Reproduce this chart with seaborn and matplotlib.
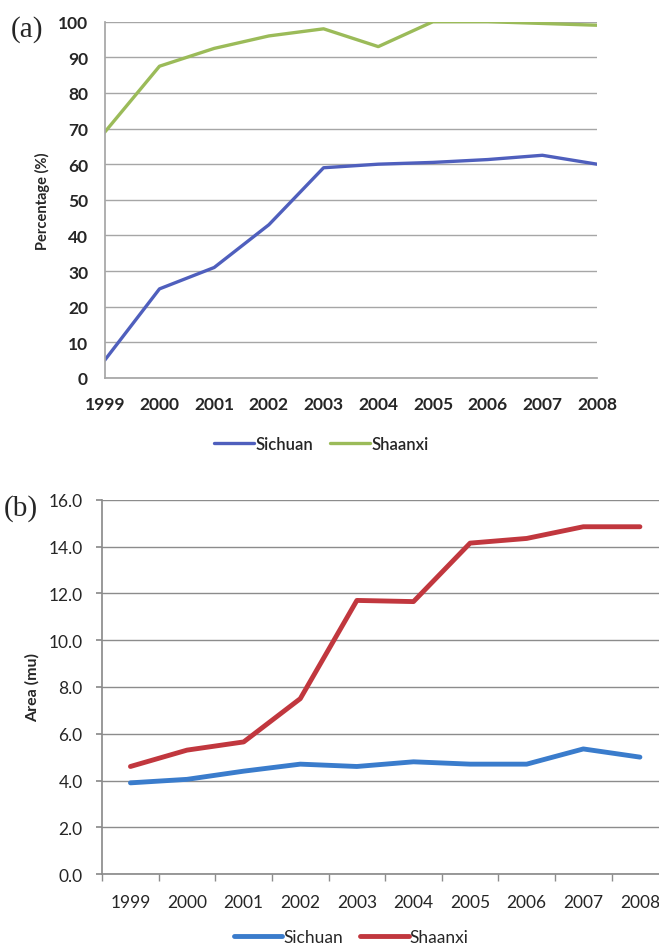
import numpy as np
import pandas as pd
import matplotlib
matplotlib.use("Agg")
import matplotlib.pyplot as plt
import seaborn as sns
from matplotlib.ticker import MultipleLocator, FixedLocator

# Data
years = ["1999", "2000", "2001", "2002", "2003", "2004", "2005", "2006", "2007", "2008"]
pct_sichuan = [5, 25, 31, 43, 59, 60, 60.5, 61.3, 62.5, 60]
pct_shaanxi = [69, 87.5, 92.5, 96, 98, 93, 100, 100, 99.5, 99]
area_sichuan = [3.9, 4.05, 4.4, 4.7, 4.6, 4.8, 4.7, 4.7, 5.35, 5.0]
area_shaanxi = [4.6, 5.3, 5.65, 7.5, 11.7, 11.65, 14.15, 14.35, 14.85, 14.85]
regions = ["Sichuan", "Shaanxi"]

sns.set_theme(style="white")
plt.rcParams["font.family"] = ["Lato", "DejaVu Sans"]

def long_df(a, b):
    df = pd.DataFrame({"x": list(range(len(years))) * 2,
                       "value": a + b,
                       "region": [regions[0]] * len(a) + [regions[1]] * len(b)})
    return df

fig = plt.figure(figsize=(6.59, 9.45), dpi=100)

# Panel (a)
ax1 = fig.add_axes([0.159, 0.599, 0.747, 0.377])
sns.lineplot(data=long_df(pct_sichuan, pct_shaanxi), x="x", y="value", hue="region",
             palette=["#4f5fbd", "#9bbb59"], linewidth=2.4, ax=ax1)
ax1.set_xlim(0, 9)
ax1.set_ylim(0, 100)
ax1.yaxis.set_major_locator(MultipleLocator(10))
ax1.set_xticks(range(len(years)))
ax1.set_xticklabels(years)
ax1.grid(axis="y", color="#a6a6a6", linewidth=1)
for s in ["top", "right"]:
    ax1.spines[s].set_visible(False)
ax1.spines["left"].set_color("#a6a6a6")
ax1.spines["bottom"].set_color("#a6a6a6")
ax1.tick_params(axis="x", labelsize=12.5, length=0, pad=13)
ax1.tick_params(axis="y", labelsize=12.5, length=0, pad=12)
for lab in ax1.get_xticklabels() + ax1.get_yticklabels():
    lab.set_fontweight("bold")
ax1.set_xlabel("")
ax1.set_ylabel("Percentage (%)", fontsize=10.5, fontweight="bold", labelpad=6)
leg1 = ax1.legend(loc="center", bbox_to_anchor=(0.44, -0.185), ncol=2, frameon=False,
                  fontsize=12, handlelength=2.4, columnspacing=1.0, handletextpad=0.1)
for t in leg1.get_texts():
    t.set_fontweight("semibold")
fig.text(0.016, 0.969, "(a)", fontsize=21, family="Liberation Serif", va="center")

# Panel (b)
ax2 = fig.add_axes([0.155, 0.074, 0.859, 0.396])
sns.lineplot(data=long_df(area_sichuan, area_shaanxi), x="x", y="value", hue="region",
             palette=["#3a7ccc", "#c1373e"], linewidth=3.5, ax=ax2)
ax2.set_xlim(-0.5, 9.5)
ax2.set_ylim(0, 16)
ax2.yaxis.set_major_locator(MultipleLocator(2))
ax2.yaxis.set_major_formatter(matplotlib.ticker.FormatStrFormatter("%.1f"))
ax2.set_xticks(range(len(years)))
ax2.set_xticklabels(years)
ax2.xaxis.set_minor_locator(FixedLocator(np.arange(-0.5, 10, 1)))
ax2.grid(axis="y", color="#8c8c8c", linewidth=1)
for s in ["top", "right"]:
    ax2.spines[s].set_visible(False)
ax2.spines["left"].set_color("#8c8c8c")
ax2.spines["bottom"].set_color("#8c8c8c")
ax2.tick_params(axis="x", which="major", labelsize=12.5, length=0, pad=14)
ax2.tick_params(axis="x", which="minor", length=5, color="#8c8c8c", bottom=True)
ax2.tick_params(axis="y", labelsize=12.5, length=4, color="#8c8c8c", left=True, pad=10)
ax2.set_xlabel("")
ax2.set_ylabel("Area (mu)", fontsize=11.5, fontweight="bold", labelpad=6)
ax2.legend(loc="center", bbox_to_anchor=(0.44, -0.168), ncol=2, frameon=False,
           fontsize=12.5, handlelength=2.8, columnspacing=1.0, handletextpad=0.05)
fig.text(0.006, 0.462, "(b)", fontsize=21, family="Liberation Serif", va="center")

fig.savefig("out.png", dpi=100)
